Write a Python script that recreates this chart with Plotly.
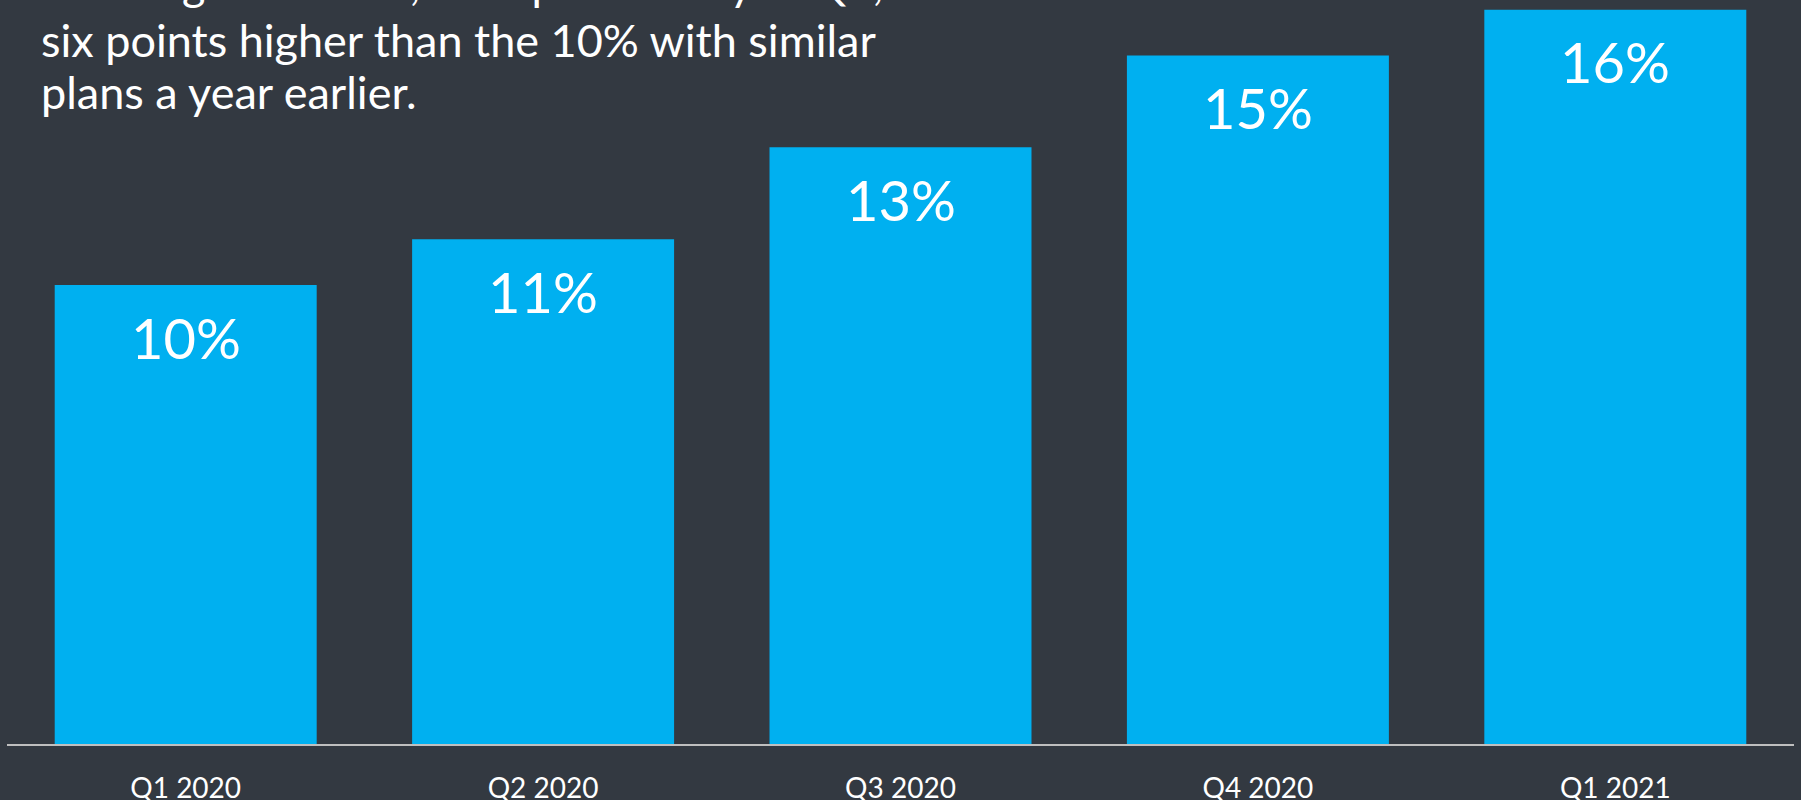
import plotly.graph_objects as go

# data
quarters = ["Q1 2020", "Q2 2020", "Q3 2020", "Q4 2020", "Q1 2021"]
share_planning = [10, 11, 13, 15, 16]
bar_labels = ["10%", "11%", "13%", "15%", "16%"]
headline = [
    "Heading into 2021, 16% plan to buy in Q1,",
    "six points higher than the 10% with similar",
    "plans a year earlier.",
]

BG = "#333941"
BAR = "#00B0F0"
FONT = "Lato"
W, H = 1801, 800
M_T, M_B = 0, 56
plot_h = H - M_T - M_B


def paper_y(px):
    """page pixel row -> paper coordinate"""
    return (H - M_B - px) / plot_h


fig = go.Figure()
fig.add_trace(go.Bar(
    x=quarters,
    y=share_planning,
    marker=dict(color=BAR, line=dict(width=0)),
    hoverinfo="skip",
))

# value labels inside bars, just below the top
for q, v, lab in zip(quarters, share_planning, bar_labels):
    fig.add_annotation(
        x=q, y=v, text=lab, showarrow=False,
        yanchor="middle", yshift=-52,
        font=dict(family=FONT, size=56, color="white"),
    )

# headline text, top-left (first line is clipped by the page edge)
rows = [-17, 40, 92]
for line, row in zip(headline, rows):
    fig.add_annotation(
        xref="paper", yref="paper",
        x=0.018, y=paper_y(row),
        xanchor="left", yanchor="middle",
        text=line, showarrow=False,
        font=dict(family=FONT, size=45, color="white"),
    )

fig.update_layout(
    width=W, height=H,
    margin=dict(l=7, r=7, t=M_T, b=M_B),
    paper_bgcolor=BG,
    plot_bgcolor=BG,
    bargap=0.267,
    showlegend=False,
    xaxis=dict(
        showline=True, linecolor="#BFBFBF", linewidth=2,
        showgrid=False, zeroline=False, ticks="",
        automargin=False,
        ticklabelstandoff=18,
        tickfont=dict(family=FONT, size=28, color="white"),
    ),
    yaxis=dict(visible=False, range=[0, 16.21], automargin=False),
)

# drop the default page margin so the figure sits flush in the window
fig.write_html(
    "out.html",
    config={"displayModeBar": False},
    post_script="document.body.style.margin='0';",
)
